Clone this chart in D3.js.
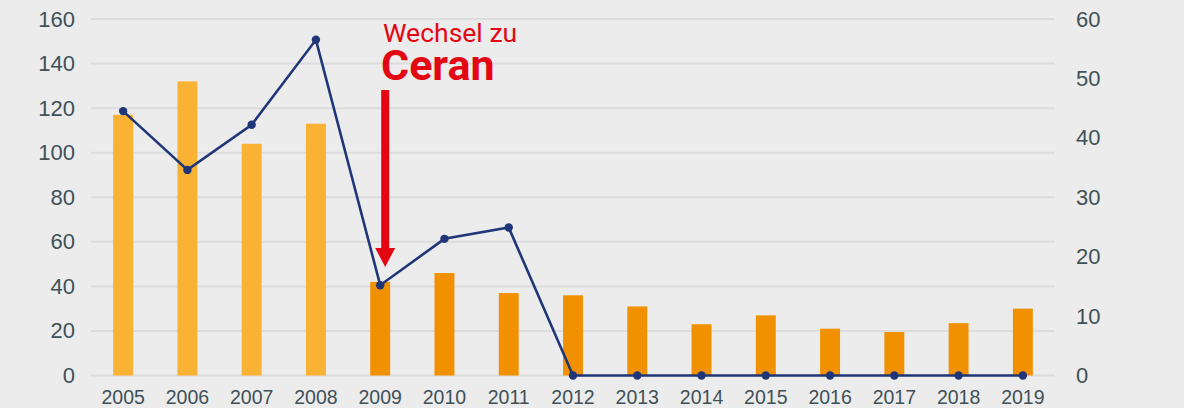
<!DOCTYPE html>
<html>
<head>
<meta charset="UTF-8">
<title>Wechsel zu Ceran</title>
<script src="https://cdn.jsdelivr.net/npm/d3@7"></script>
<style>
body { margin: 0; background: #ececec; }
svg { display: block; font-family: Roboto, "Noto Sans", sans-serif; }
.grid line { stroke: #dcdcdc; stroke-width: 2px; }
.axis text { fill: #3f5157; }
.axis path, .axis line { display: none; }
</style>
</head>
<body>
<svg id="chart"></svg>
<script>
var years = ["2005","2006","2007","2008","2009","2010","2011","2012","2013","2014","2015","2016","2017","2018","2019"];
var barValues = [117, 132, 104, 113, 42, 46, 37, 36, 31, 23, 27, 21, 19.5, 23.5, 30];
var lineValues = [44.5, 34.6, 42.2, 56.5, 15.2, 23, 24.9, 0, 0, 0, 0, 0, 0, 0, 0];
var leftTicks = [0, 20, 40, 60, 80, 100, 120, 140, 160];
var rightTicks = [0, 10, 20, 30, 40, 50, 60];

var width = 1184, height = 408;
var svg = d3.select("#chart").attr("width", width).attr("height", height);

var x = d3.scaleBand()
    .domain(years)
    .range([91, 1055])
    .paddingInner(0.69)
    .paddingOuter(0.345);

var yLeft = d3.scaleLinear().domain([0, 160]).range([375.5, 19]);
var yRight = d3.scaleLinear().domain([0, 60]).range([375.5, 19]);

// gridlines
svg.append("g")
    .attr("class", "grid")
  .selectAll("line")
  .data(leftTicks)
  .enter().append("line")
    .attr("x1", 91)
    .attr("x2", 1055)
    .attr("y1", function(d) { return yLeft(d); })
    .attr("y2", function(d) { return yLeft(d); });

svg.append("g")
    .attr("class", "axis")
    .attr("transform", "translate(91,0)")
    .call(d3.axisLeft(yLeft).tickValues(leftTicks).tickSize(0).tickPadding(16))
    .selectAll("text")
    .style("font-size", "22px");

svg.append("g")
    .attr("class", "axis")
    .attr("transform", "translate(1055,0)")
    .call(d3.axisRight(yRight).tickValues(rightTicks).tickSize(0).tickPadding(21))
    .selectAll("text")
    .style("font-size", "22px");

svg.append("g")
    .attr("class", "axis")
    .attr("transform", "translate(0,376)")
    .call(d3.axisBottom(x).tickSize(0).tickPadding(14))
    .selectAll("text")
    .style("font-size", "19.5px");

// bars
svg.append("g")
  .selectAll("rect")
  .data(barValues)
  .enter().append("rect")
    .attr("x", function(d, i) { return x(years[i]); })
    .attr("width", x.bandwidth())
    .attr("y", function(d) { return yLeft(d); })
    .attr("height", function(d) { return yLeft(0) - yLeft(d); })
    .attr("fill", function(d, i) { return +years[i] < 2009 ? "#f9b233" : "#f29100"; });

// line
var line = d3.line()
    .x(function(d, i) { return x(years[i]) + x.bandwidth() / 2; })
    .y(function(d) { return yRight(d); });

svg.append("path")
    .datum(lineValues)
    .attr("d", line)
    .attr("fill", "none")
    .attr("stroke", "#1f3778")
    .attr("stroke-width", 2.6);

svg.append("g")
  .selectAll("circle")
  .data(lineValues)
  .enter().append("circle")
    .attr("cx", function(d, i) { return x(years[i]) + x.bandwidth() / 2; })
    .attr("cy", function(d) { return yRight(d); })
    .attr("r", 4.2)
    .attr("fill", "#1f3778");

// annotation
var ax = x("2009") + x.bandwidth() / 2 + 5;
var note = svg.append("g").attr("fill", "#e30613");
note.append("text")
    .attr("x", 383)
    .attr("y", 42)
    .style("font-size", "26.5px")
    .text("Wechsel zu");
note.append("text")
    .attr("x", 381)
    .attr("y", 80)
    .style("font-size", "43px")
    .style("font-weight", "bold")
    .text("Ceran");
note.append("rect")
    .attr("x", ax - 4)
    .attr("y", 90)
    .attr("width", 8)
    .attr("height", 160);
note.append("path")
    .attr("d", "M" + (ax - 10) + ",248L" + (ax + 10) + ",248L" + ax + ",267Z");
</script>
</body>
</html>
